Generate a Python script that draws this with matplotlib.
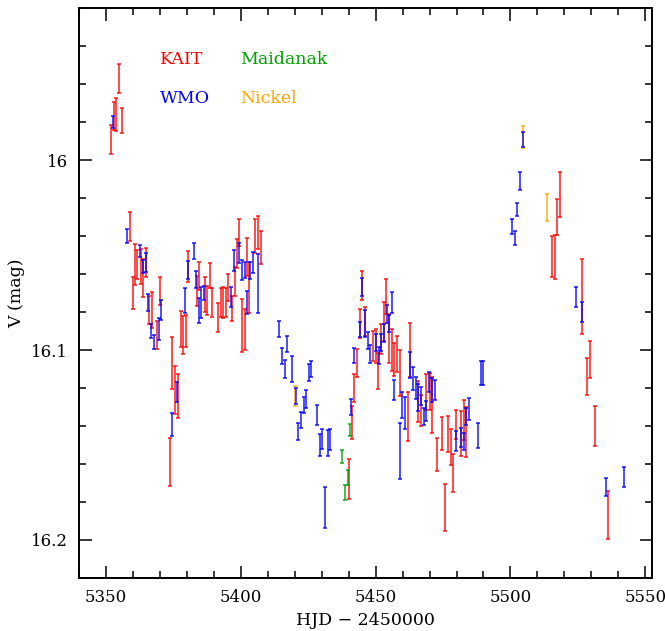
import matplotlib
matplotlib.use("Agg")
import matplotlib.pyplot as plt
from matplotlib.ticker import MultipleLocator

plt.rcParams['font.family'] = ['DejaVu Serif']

# KAIT
kait_t = [5352.0, 5353.0, 5353.9, 5354.8, 5355.8, 5358.8, 5359.9, 5360.7, 5361.7, 5362.9,
          5363.6, 5364.8, 5366.1, 5367.2, 5368.8, 5369.9, 5373.7, 5374.6, 5375.6, 5376.7,
          5377.7, 5378.7, 5379.8, 5380.6, 5383.9, 5384.4, 5386.6, 5387.6, 5388.5, 5389.5,
          5391.6, 5392.5, 5393.5, 5394.4, 5395.4, 5396.6, 5397.7, 5398.5, 5399.4, 5400.5,
          5401.6, 5402.5, 5403.1, 5405.4, 5406.4, 5407.4,
          5440.1, 5441.1, 5442.1, 5443.1, 5444.1, 5445.0, 5445.9, 5449.0, 5450.0, 5450.9,
          5452.1, 5453.0, 5453.9, 5455.0, 5455.9, 5457.0, 5458.0, 5459.0, 5461.9, 5462.9,
          5465.8, 5466.8, 5468.7, 5470.0, 5470.9, 5472.7, 5474.8, 5475.8, 5476.8, 5477.8,
          5478.8, 5479.8, 5481.7, 5482.7, 5483.7,
          5515.4, 5516.4, 5517.4, 5518.4, 5526.4, 5528.4, 5529.4, 5531.4, 5536.3]
kait_v = [15.989, 15.977, 15.976, 15.957, 15.979, 16.035, 16.070, 16.055, 16.055, 16.056,
          16.062, 16.054, 16.079, 16.079, 16.092, 16.069, 16.159, 16.107, 16.121, 16.124,
          16.089, 16.092, 16.090, 16.056, 16.069, 16.061, 16.071, 16.074, 16.061, 16.075,
          16.083, 16.075, 16.075, 16.075, 16.067, 16.078, 16.064, 16.049, 16.038, 16.087,
          16.089, 16.051, 16.067, 16.040, 16.038, 16.046,
          16.168, 16.138, 16.120, 16.107, 16.086, 16.066, 16.085, 16.098, 16.098, 16.111,
          16.094, 16.085, 16.072, 16.094, 16.100, 16.105, 16.102, 16.112, 16.135, 16.100,
          16.127, 16.132, 16.122, 16.122, 16.129, 16.155, 16.144, 16.183, 16.144, 16.151,
          16.165, 16.139, 16.144, 16.137, 16.143,
          16.051, 16.051, 16.030, 16.018, 16.072, 16.114, 16.105, 16.140, 16.187]
kait_e = [0.0076, 0.0074, 0.0085, 0.0076, 0.0066, 0.0076, 0.0085, 0.0107, 0.0074, 0.0092,
          0.0100, 0.0077, 0.0075, 0.0093, 0.0074, 0.0074, 0.0127, 0.0136, 0.0127, 0.0116,
          0.0096, 0.0101, 0.0083, 0.0083, 0.0079, 0.0072, 0.0092, 0.0077, 0.0066, 0.0074,
          0.0076, 0.0074, 0.0079, 0.0077, 0.0072, 0.0066, 0.0076, 0.0076, 0.0072, 0.0138,
          0.0108, 0.0102, 0.0134, 0.0091, 0.0086, 0.0087,
          0.0105, 0.0086, 0.0075, 0.0074, 0.0077, 0.0075, 0.0075, 0.0080, 0.0088, 0.0093,
          0.0079, 0.0101, 0.0092, 0.0129, 0.0109, 0.0086, 0.0096, 0.0120, 0.0127, 0.0143,
          0.0107, 0.0081, 0.0096, 0.0098, 0.0149, 0.0085, 0.0086, 0.0125, 0.0095, 0.0096,
          0.0100, 0.0076, 0.0117, 0.0105, 0.0131,
          0.0108, 0.0116, 0.0095, 0.0118, 0.0198, 0.0096, 0.0095, 0.0107, 0.0127]

# WMO
wmo_t = [5352.7, 5357.7, 5362.6, 5363.9, 5364.7, 5365.6, 5366.8, 5367.7, 5369.6, 5370.6,
         5374.6, 5376.4, 5379.5, 5380.6, 5382.5, 5383.5, 5384.5, 5385.4, 5386.4, 5396.4,
         5397.4, 5399.4, 5400.3, 5401.4, 5402.4, 5403.3, 5404.4, 5406.4, 5414.3, 5415.3,
         5416.3, 5417.3, 5419.1, 5420.4, 5421.4, 5422.4, 5423.3, 5424.3, 5425.3, 5426.2,
         5428.3, 5429.3, 5430.3, 5431.3, 5432.2, 5433.2, 5441.0, 5442.0, 5444.1, 5445.1,
         5446.1, 5447.0, 5448.0, 5450.0, 5451.1, 5452.1, 5453.1, 5454.1, 5455.0, 5455.9,
         5457.0, 5458.9, 5459.9, 5460.9, 5462.9, 5464.0, 5465.0, 5465.9, 5466.8, 5467.9,
         5468.8, 5469.9, 5470.9, 5471.9, 5479.8, 5481.7, 5482.7, 5483.7, 5484.7, 5487.8,
         5489.0, 5489.9, 5500.6, 5501.6, 5502.6, 5503.6, 5504.6, 5524.4, 5526.4, 5535.3,
         5542.2]
wmo_v = [15.980, 16.040, 16.048, 16.056, 16.054, 16.075, 16.090, 16.096, 16.089, 16.079,
         16.139, 16.122, 16.074, 16.058, 16.048, 16.063, 16.079, 16.075, 16.070, 16.072,
         16.053, 16.049, 16.058, 16.058, 16.075, 16.058, 16.054, 16.065, 16.089, 16.103,
         16.110, 16.097, 16.110, 16.124, 16.143, 16.137, 16.129, 16.126, 16.112, 16.110,
         16.134, 16.150, 16.147, 16.183, 16.149, 16.147, 16.130, 16.103, 16.089, 16.067,
         16.086, 16.095, 16.102, 16.096, 16.103, 16.096, 16.091, 16.081, 16.086, 16.075,
         16.121, 16.153, 16.129, 16.133, 16.108, 16.115, 16.120, 16.125, 16.124, 16.135,
         16.132, 16.117, 16.121, 16.121, 16.148, 16.146, 16.148, 16.135, 16.131, 16.145,
         16.112, 16.112, 16.035, 16.041, 16.026, 16.011, 15.989, 16.072, 16.080, 16.172,
         16.167]
wmo_e = [0.0034, 0.0039, 0.0033, 0.0034, 0.0048, 0.0046, 0.0038, 0.0037, 0.0057, 0.0053,
         0.0060, 0.0053, 0.0065, 0.0046, 0.0041, 0.0045, 0.0066, 0.0079, 0.0039, 0.0054,
         0.0056, 0.0053, 0.0054, 0.0042, 0.0061, 0.0045, 0.0056, 0.0153, 0.0042, 0.0042,
         0.0046, 0.0043, 0.0066, 0.0042, 0.0046, 0.0042, 0.0044, 0.0047, 0.0045, 0.0041,
         0.0053, 0.0060, 0.0053, 0.0108, 0.0070, 0.0054, 0.0041, 0.0041, 0.0039, 0.0047,
         0.0071, 0.0044, 0.0046, 0.0046, 0.0044, 0.0046, 0.0048, 0.0046, 0.0044, 0.0053,
         0.0054, 0.0147, 0.0070, 0.0084, 0.0067, 0.0058, 0.0058, 0.0071, 0.0047, 0.0047,
         0.0053, 0.0053, 0.0064, 0.0051, 0.0053, 0.0050, 0.0045, 0.0046, 0.0057, 0.0068,
         0.0064, 0.0062, 0.0039, 0.0038, 0.0033, 0.0047, 0.0039, 0.0054, 0.0055, 0.0048,
         0.0053]

# Maidanak
maid_t = [5437.6, 5438.7, 5439.6, 5440.6]
maid_v = [16.156, 16.175, 16.167, 16.142]
maid_e = [0.0035, 0.0039, 0.0038, 0.0031]

# Nickel
nick_t = [5420.1, 5504.6, 5513.5]
nick_v = [16.124, 15.988, 16.025]
nick_e = [0.0053, 0.0057, 0.0069]

fig = plt.figure(figsize=(6.65, 6.31), dpi=100)
ax = fig.add_axes([0.1187, 0.084, 0.8618, 0.9033])

sets = [
    (kait_t, kait_v, kait_e, '#ff0000'),
    (maid_t, maid_v, maid_e, '#00a000'),
    (nick_t, nick_v, nick_e, '#ffa500'),
    (wmo_t, wmo_v, wmo_e, '#0000ff'),
]
for t, v, e, c in sets:
    ax.errorbar(t, v, yerr=e, fmt='none', ecolor=c, elinewidth=1.4,
                capsize=1.5, capthick=1.4, alpha=0.7)

ax.set_xlim(5340, 5552.5)
ax.set_ylim(16.22, 15.92)

ax.xaxis.set_major_locator(MultipleLocator(50))
ax.xaxis.set_minor_locator(MultipleLocator(10))
ax.yaxis.set_major_locator(MultipleLocator(0.1))
ax.yaxis.set_minor_locator(MultipleLocator(0.02))
ax.set_yticks([16.0, 16.1, 16.2])
ax.set_yticklabels(['16', '16.1', '16.2'])

ax.tick_params(which='both', direction='in', top=True, right=True, labelsize=12, width=1.1)
ax.tick_params(which='major', length=9)
ax.tick_params(which='minor', length=5)
ax.tick_params(axis='x', pad=8)
ax.tick_params(axis='y', pad=8)
for s in ax.spines.values():
    s.set_linewidth(1.4)

ax.set_xlabel('HJD \u2212 2450000', fontsize=12.5, labelpad=4)
ax.set_ylabel('V (mag)', fontsize=12.5, labelpad=4)

ax.text(0.1415, 0.909, 'KAIT', color='#ff0000', fontsize=12.5, transform=ax.transAxes, va='center')
ax.text(0.281, 0.909, 'Maidanak', color='#00a000', fontsize=12.5, transform=ax.transAxes, va='center')
ax.text(0.1415, 0.842, 'WMO', color='#0000ff', fontsize=12.5, transform=ax.transAxes, va='center')
ax.text(0.281, 0.842, 'Nickel', color='#ffa500', fontsize=12.5, transform=ax.transAxes, va='center')

fig.savefig('out.png', dpi=100)
